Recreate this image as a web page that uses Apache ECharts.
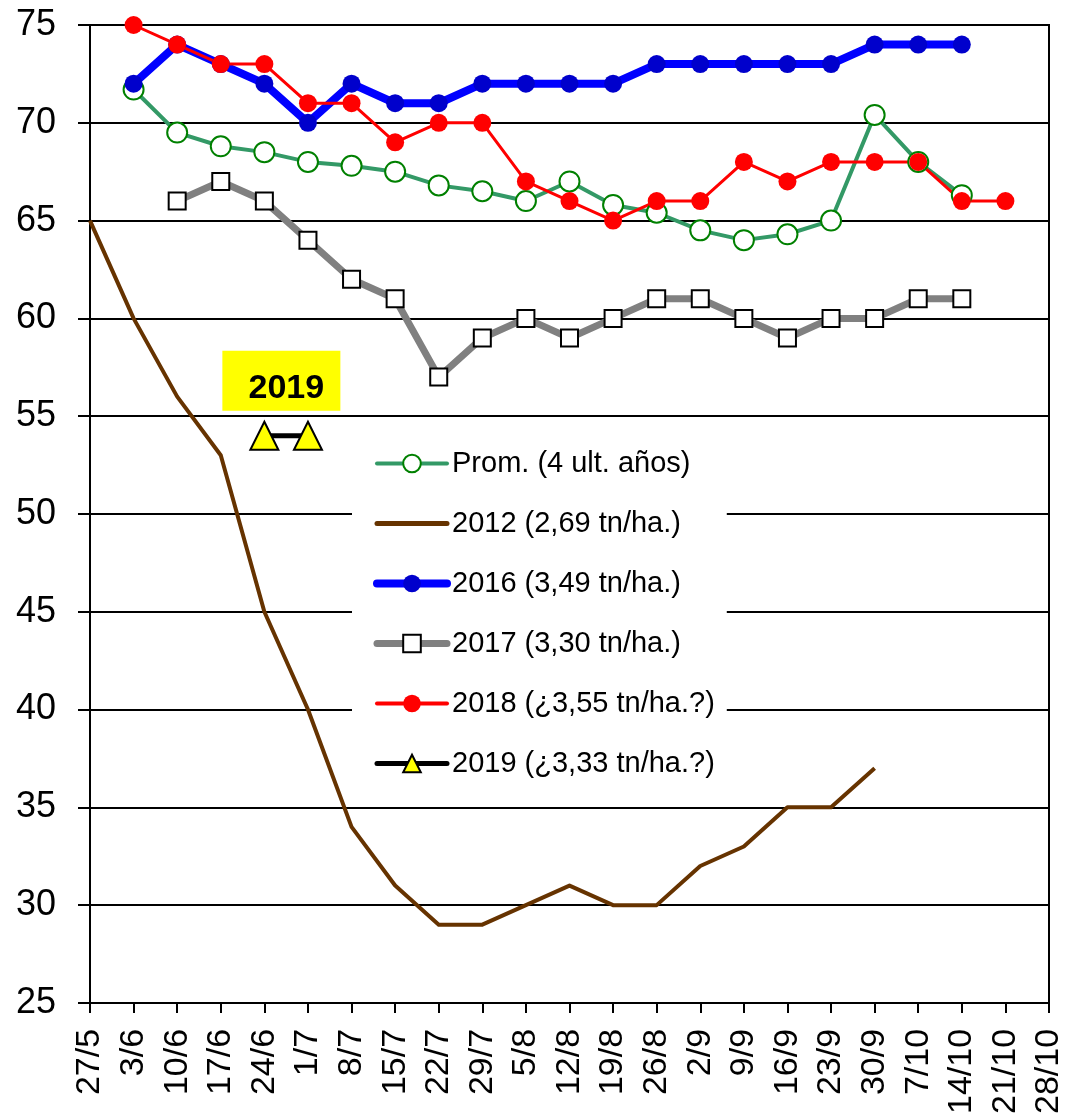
<!DOCTYPE html>
<html>
<head>
<meta charset="utf-8">
<script src="https://cdn.jsdelivr.net/npm/echarts@6/dist/echarts.min.js"></script>
<style>
  html, body { margin: 0; padding: 0; background: #fff; }
  #chart { width: 1066px; height: 1117px; }
</style>
</head>
<body>
<div id="chart"></div>
<script>
const categories = ['27/5', '3/6', '10/6', '17/6', '24/6', '1/7', '8/7', '15/7', '22/7', '29/7', '5/8', '12/8',
  '19/8', '26/8', '2/9', '9/9', '16/9', '23/9', '30/9', '7/10', '14/10', '21/10', '28/10']

const prom = [null, 71.7, 69.5, 68.8, 68.5, 68.0, 67.8, 67.5, 66.8, 66.5, 66.0, 67.0,
  65.8, 65.4, 64.5, 64.0, 64.3, 65.0, 70.4, 68.0, 66.3, null, null]
const y2012 = [65, 60, 56, 53, 45, 40, 34, 31, 29, 29, 30, 31,
  30, 30, 32, 33, 35, 35, 37, null, null, null, null]
const y2016 = [null, 72, 74, 73, 72, 70, 72, 71, 71, 72, 72, 72,
  72, 73, 73, 73, 73, 73, 74, 74, 74, null, null]
const y2017 = [null, null, 66, 67, 66, 64, 62, 61, 57, 59, 60, 59,
  60, 61, 61, 60, 59, 60, 60, 61, 61, null, null]
const y2018 = [null, 75, 74, 73, 73, 71, 71, 69, 70, 70, 67, 66,
  65, 66, 66, 68, 67, 68, 68, 68, 66, 66, null]
const y2019 = [null, null, null, null, 54, 54, null, null, null, null, null, null,
  null, null, null, null, null, null, null, null, null, null, null]

const names = ['Prom. (4 ult. años)', '2012 (2,69 tn/ha.)', '2016 (3,49 tn/ha.)',
  '2017 (3,30 tn/ha.)', '2018 (¿3,55 tn/ha.?)', '2019 (¿3,33 tn/ha.?)']

const font = 'Arial, "Liberation Sans", sans-serif'
const chart = echarts.init(document.getElementById('chart'))

chart.setOption({
  animation: false,
  textStyle: { fontFamily: font },
  grid: {
    left: 90, right: 15, top: 25, bottom: 112,
    show: true, borderColor: '#000', borderWidth: 2
  },
  legend: {
    orient: 'vertical',
    left: 352,
    top: 432,
    padding: [17, 12, 12, 21],
    backgroundColor: '#fff',
    itemWidth: 70,
    itemHeight: 22,
    itemGap: 31,
    textStyle: { fontSize: 29, color: '#000', fontFamily: font },
    data: [
      { name: names[0], lineStyle: { width: 4, cap: 'round' } },
      { name: names[1], lineStyle: { width: 5, cap: 'round' }, itemStyle: { color: 'rgba(0,0,0,0)', borderWidth: 0 } },
      { name: names[2], lineStyle: { width: 8, cap: 'round' } },
      { name: names[3], lineStyle: { width: 7, cap: 'round' } },
      { name: names[4], lineStyle: { width: 4, cap: 'round' } },
      { name: names[5], lineStyle: { width: 5, cap: 'round' } }
    ]
  },
  xAxis: {
    type: 'category',
    data: categories,
    boundaryGap: false,
    axisLine: { lineStyle: { color: '#000', width: 2 } },
    axisTick: { length: 10, interval: 0, lineStyle: { color: '#000', width: 2 } },
    axisLabel: { interval: 0, rotate: 90, fontSize: 34, color: '#000', margin: 26 },
    splitLine: { show: false }
  },
  yAxis: {
    type: 'value',
    min: 25, max: 75, interval: 5,
    axisLine: { show: true, lineStyle: { color: '#000', width: 2 } },
    axisTick: { show: true, length: 12, lineStyle: { color: '#000', width: 2 } },
    axisLabel: { fontSize: 36, color: '#000', margin: 34 },
    splitLine: { lineStyle: { color: '#000', width: 2 } }
  },
  series: [
    {
      name: names[0], type: 'line', data: prom,
      symbol: 'circle', symbolSize: 20,
      lineStyle: { color: '#339966', width: 4, join: 'round' },
      itemStyle: { color: '#fff', borderColor: '#008000', borderWidth: 2 }
    },
    {
      name: names[1], type: 'line', data: y2012,
      symbol: 'none',
      lineStyle: { color: '#663300', width: 4, join: 'round' },
      itemStyle: { color: '#663300' }
    },
    {
      name: names[2], type: 'line', data: y2016,
      symbol: 'circle', symbolSize: 18,
      lineStyle: { color: '#0000ff', width: 8, join: 'round' },
      itemStyle: { color: '#0000cc' }
    },
    {
      name: names[3], type: 'line', data: y2017,
      symbol: 'rect', symbolSize: 17,
      lineStyle: { color: '#808080', width: 7, join: 'round' },
      itemStyle: { color: '#fff', borderColor: '#000', borderWidth: 2 }
    },
    {
      name: names[4], type: 'line', data: y2018,
      symbol: 'circle', symbolSize: 18,
      lineStyle: { color: '#ff0000', width: 3, join: 'round' },
      itemStyle: { color: '#ff0000' }
    },
    {
      name: names[5], type: 'line', data: y2019,
      symbol: 'triangle', symbolSize: [28, 28],
      lineStyle: { color: '#000', width: 5 },
      itemStyle: { color: '#ffff00', borderColor: '#000', borderWidth: 2 },
      markPoint: {
        symbol: 'rect',
        symbolSize: [118, 60],
        symbolOffset: [17, -55],
        itemStyle: { color: '#ffff00', borderWidth: 0 },
        label: {
          show: true, formatter: '2019', position: 'inside',
          fontSize: 34, fontWeight: 'bold', color: '#000', offset: [5, 8]
        },
        data: [{ coord: ['24/6', 54] }]
      }
    }
  ]
})
</script>
</body>
</html>
